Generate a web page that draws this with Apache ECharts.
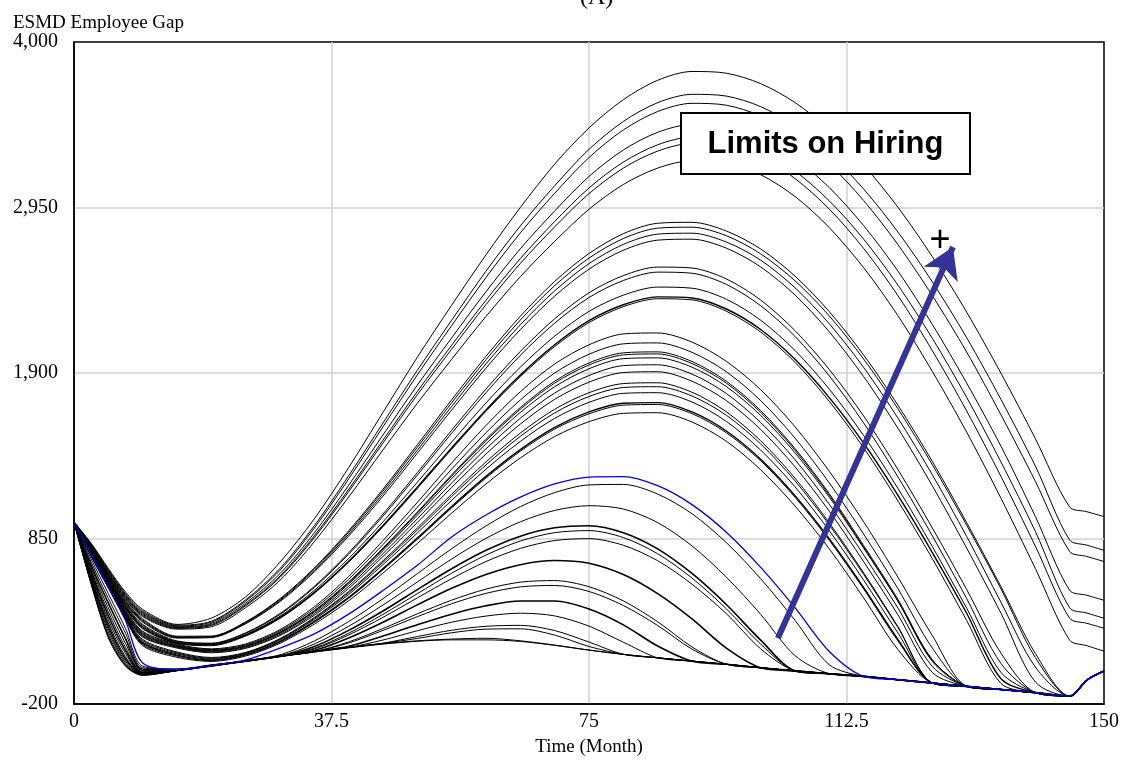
<!DOCTYPE html>
<html><head><meta charset="utf-8">
<script src="https://cdn.jsdelivr.net/npm/echarts@6/dist/echarts.min.js"></script>
<style>html,body{margin:0;padding:0;background:#fff}#c{width:1127px;height:762px}</style>
</head><body><div id="c"></div>
<script>
// Time (Month) sample points shared by all runs
const T = [0, 2.5, 5, 7.5, 10, 15, 20, 25, 30, 35, 40, 45, 50, 55, 60, 65, 70, 75, 80, 85, 90, 95, 100, 105, 110, 115, 120, 125, 130, 135, 140, 145, 147.5, 150];
const xTicks = [0, 37.5, 75, 112.5, 150];
const yTicks = [-200, 850, 1900, 2950, 4000];

// lowest run (common floor)
const runFloor = [955, 560, 220, 40, -18, 12, 42, 72, 102, 130, 156, 180, 198, 207, 207, 197, 172, 142, 115, 93, 72, 52, 30, 10, -8, -25, -46, -67, -88, -108, -128, -150, -48, 9];
// low runs
const runF8 = [955, 562, 228, 44, -17, 12, 42, 72, 102, 133, 159, 183, 201, 212, 217, 201, 174, 142, 115, 93, 72, 52, 30, 10, -8, -25, -46, -67, -88, -108, -128, -150, -48, 9];
const runF7 = [955, 568, 240, 50, -16, 12, 42, 72, 102, 134, 160, 185, 216, 252, 275, 277, 237, 165, 115, 93, 72, 52, 30, 10, -8, -25, -46, -67, -88, -108, -128, -150, -48, 9];
const runF6 = [955, 575, 258, 60, -14, 12, 42, 72, 102, 134, 160, 186, 228, 268, 293, 299, 266, 193, 115, 93, 72, 52, 30, 10, -8, -25, -46, -67, -88, -108, -128, -150, -48, 9];
const runF5 = [955, 585, 275, 70, -12, 13, 42, 72, 102, 133, 159, 206, 265, 319, 358, 376, 359, 294, 192, 93, 72, 52, 30, 10, -8, -25, -46, -67, -88, -108, -128, -150, -48, 9];
const runF4 = [955, 596, 295, 85, -10, 13, 42, 72, 102, 132, 166, 231, 303, 370, 423, 453, 453, 402, 302, 168, 72, 52, 30, 10, -8, -25, -46, -67, -88, -108, -128, -150, -48, 9];
const runF3 = [955, 608, 315, 100, -8, 14, 42, 72, 103, 132, 187, 267, 354, 436, 502, 543, 552, 514, 425, 298, 148, 52, 30, 10, -8, -25, -46, -67, -88, -108, -128, -150, -48, 9];
const runF2 = [955, 620, 335, 120, -5, 14, 42, 72, 103, 132, 194, 279, 372, 459, 529, 573, 583, 544, 454, 322, 162, 52, 30, 10, -8, -25, -46, -67, -88, -108, -128, -150, -48, 9];
const runF1 = [955, 635, 360, 140, 0, 15, 42, 72, 104, 140, 219, 319, 429, 534, 622, 684, 710, 693, 621, 500, 340, 155, 30, 10, -8, -25, -46, -67, -88, -108, -128, -150, -48, 9];
const runE5 = [955, 650, 385, 160, 5, 16, 43, 72, 103, 149, 238, 350, 473, 595, 704, 787, 837, 849, 807, 709, 560, 373, 150, 10, -8, -25, -46, -67, -88, -108, -128, -150, -48, 9];
const runE4 = [955, 665, 410, 185, 12, 17, 44, 73, 103, 154, 249, 369, 500, 630, 745, 834, 887, 900, 856, 753, 599, 404, 180, 10, -8, -25, -46, -67, -88, -108, -128, -150, -48, 9];
const runE3 = [955, 680, 440, 215, 20, 18, 45, 73, 103, 165, 267, 390, 526, 658, 775, 865, 918, 931, 887, 784, 628, 431, 205, 10, -8, -25, -46, -67, -88, -108, -128, -150, -48, 9];
const runE2 = [955, 700, 470, 250, 30, 20, 46, 74, 104, 181, 293, 428, 574, 720, 851, 956, 1028, 1058, 1037, 951, 803, 605, 369, 107, -8, -25, -46, -67, -88, -108, -128, -150, -48, 9];
const runE1 = [955, 720, 500, 280, 40, 22, 48, 75, 112, 200, 323, 468, 627, 785, 930, 1052, 1141, 1190, 1193, 1132, 1007, 824, 595, 331, 49, -25, -46, -67, -88, -108, -128, -150, -48, 9];
// middle runs
const runD13 = [955, 738, 537, 336, 170, 96, 70, 104, 185, 307, 455, 631, 818, 1011, 1196, 1361, 1497, 1591, 1644, 1648, 1589, 1467, 1286, 1056, 784, 473, 145, -67, -88, -108, -128, -150, -48, 9];
const runD12 = [955, 740, 539, 341, 178, 104, 75, 110, 192, 318, 470, 652, 845, 1044, 1234, 1404, 1544, 1641, 1696, 1700, 1642, 1521, 1343, 1112, 838, 530, 200, -67, -88, -108, -128, -150, -48, 9];
const runD11 = [955, 742, 541, 346, 186, 110, 80, 115, 198, 324, 477, 659, 853, 1053, 1244, 1414, 1555, 1653, 1708, 1712, 1653, 1532, 1353, 1122, 848, 539, 209, -67, -88, -108, -128, -150, -48, 9];
const runD10 = [955, 744, 543, 351, 194, 118, 85, 121, 206, 337, 495, 684, 885, 1092, 1290, 1466, 1612, 1714, 1771, 1775, 1716, 1593, 1411, 1178, 899, 586, 250, -67, -88, -108, -128, -150, -48, 9];
const runD9 = [955, 746, 545, 356, 202, 124, 90, 124, 212, 344, 506, 699, 904, 1116, 1317, 1498, 1647, 1751, 1808, 1813, 1754, 1632, 1450, 1216, 936, 622, 285, -67, -88, -108, -128, -150, -48, 9];
const runD8 = [955, 748, 547, 361, 210, 130, 95, 127, 215, 349, 514, 709, 917, 1131, 1336, 1519, 1670, 1775, 1833, 1838, 1778, 1654, 1470, 1233, 949, 632, 290, -67, -88, -108, -128, -150, -48, 9];
const runD7 = [955, 750, 549, 366, 224, 155, 125, 153, 234, 363, 533, 736, 952, 1174, 1386, 1576, 1733, 1842, 1903, 1908, 1848, 1725, 1542, 1305, 1023, 703, 365, 0, -88, -108, -128, -150, -48, 9];
const runD6 = [955, 752, 552, 371, 230, 160, 130, 158, 241, 373, 547, 754, 975, 1202, 1419, 1613, 1773, 1884, 1947, 1952, 1893, 1770, 1586, 1350, 1067, 746, 408, 38, -88, -108, -128, -150, -48, 9];
const runD5 = [955, 754, 555, 376, 236, 164, 135, 164, 249, 383, 561, 773, 998, 1230, 1451, 1650, 1813, 1927, 1991, 1996, 1937, 1814, 1631, 1394, 1112, 789, 453, 78, -88, -108, -128, -150, -48, 9];
const runD4 = [955, 756, 558, 381, 242, 167, 138, 167, 253, 389, 569, 783, 1011, 1246, 1470, 1670, 1836, 1951, 2015, 2021, 1960, 1836, 1650, 1410, 1124, 795, 452, 70, -88, -108, -128, -150, -48, 9];
const runD3 = [955, 758, 561, 386, 248, 170, 140, 169, 256, 393, 574, 789, 1018, 1254, 1480, 1681, 1848, 1964, 2028, 2034, 1973, 1848, 1662, 1421, 1134, 805, 463, 81, -88, -108, -128, -150, -48, 9];
const runD2 = [955, 760, 565, 392, 255, 175, 145, 175, 264, 405, 591, 812, 1048, 1290, 1521, 1729, 1900, 2019, 2085, 2091, 2031, 1908, 1725, 1487, 1202, 878, 531, 155, -88, -108, -128, -150, -48, 9];
const runD1 = [955, 763, 569, 398, 262, 180, 150, 181, 272, 417, 609, 837, 1079, 1329, 1567, 1781, 1957, 2079, 2148, 2154, 2096, 1974, 1794, 1559, 1276, 956, 604, 234, -88, -108, -128, -150, -48, 9];
const runC5 = [955, 766, 574, 406, 277, 184, 170, 231, 343, 502, 700, 925, 1168, 1416, 1657, 1877, 2068, 2220, 2321, 2371, 2364, 2292, 2160, 1968, 1720, 1425, 1088, 722, 330, -70, -128, -150, -48, 9];
const runC4 = [955, 769, 579, 412, 284, 188, 175, 236, 349, 508, 706, 933, 1176, 1425, 1666, 1887, 2079, 2232, 2333, 2383, 2376, 2306, 2176, 1987, 1744, 1455, 1123, 761, 376, -40, -128, -150, -48, 9];
const runC3 = [955, 772, 584, 418, 291, 192, 178, 241, 357, 521, 724, 956, 1207, 1462, 1710, 1937, 2134, 2291, 2394, 2445, 2438, 2368, 2235, 2043, 1797, 1503, 1167, 799, 408, 0, -128, -150, -48, 9];
const runC2 = [955, 775, 589, 424, 298, 196, 183, 248, 368, 539, 750, 992, 1252, 1518, 1775, 2012, 2216, 2379, 2487, 2540, 2533, 2462, 2327, 2132, 1881, 1583, 1240, 867, 469, 57, -128, -150, -48, 9];
const runC1 = [955, 778, 594, 430, 305, 200, 186, 252, 374, 546, 760, 1005, 1268, 1537, 1798, 2037, 2244, 2409, 2518, 2572, 2566, 2497, 2363, 2169, 1922, 1627, 1287, 917, 527, 122, -128, -150, -48, 9];
const runB4 = [955, 781, 599, 437, 319, 218, 221, 309, 450, 638, 865, 1119, 1391, 1665, 1931, 2175, 2388, 2559, 2679, 2743, 2749, 2692, 2573, 2395, 2161, 1877, 1549, 1184, 789, 376, -60, -150, -48, 9];
const runB3 = [955, 784, 604, 443, 326, 222, 225, 313, 456, 647, 877, 1135, 1410, 1688, 1958, 2206, 2421, 2594, 2716, 2781, 2787, 2731, 2616, 2441, 2212, 1935, 1613, 1254, 863, 445, 35, -150, -48, 9];
const runB2 = [955, 787, 609, 449, 333, 226, 228, 318, 463, 656, 889, 1151, 1429, 1711, 1984, 2236, 2454, 2629, 2753, 2819, 2825, 2771, 2656, 2485, 2262, 1988, 1672, 1318, 934, 530, 95, -150, -48, 9];
const runB1 = [955, 790, 614, 455, 340, 230, 231, 321, 468, 663, 899, 1163, 1445, 1730, 2006, 2260, 2481, 2658, 2784, 2850, 2856, 2801, 2687, 2515, 2289, 2014, 1695, 1339, 951, 544, 121, -150, -48, 9];
// high runs
const runA7 = [955, 794, 620, 464, 354, 275, 290, 411, 585, 830, 1113, 1412, 1708, 1987, 2259, 2511, 2735, 2939, 3096, 3200, 3247, 3235, 3158, 3020, 2822, 2568, 2263, 1910, 1525, 1105, 660, 205, 170, 135];
const runA6 = [955, 798, 626, 471, 361, 280, 298, 423, 603, 855, 1147, 1456, 1762, 2051, 2334, 2595, 2827, 3038, 3200, 3308, 3357, 3344, 3269, 3134, 2940, 2690, 2390, 2042, 1659, 1243, 802, 344, 312, 281];
const runA5 = [955, 802, 632, 478, 368, 285, 304, 430, 612, 867, 1162, 1474, 1783, 2076, 2362, 2626, 2861, 3074, 3238, 3348, 3397, 3385, 3312, 3181, 2992, 2749, 2457, 2120, 1745, 1335, 895, 410, 377, 344];
const runA4 = [955, 806, 638, 485, 375, 290, 311, 440, 627, 886, 1188, 1507, 1823, 2123, 2416, 2688, 2928, 3147, 3315, 3427, 3477, 3465, 3393, 3263, 3076, 2835, 2546, 2208, 1836, 1435, 990, 521, 490, 458];
const runA3 = [955, 810, 645, 492, 382, 295, 319, 453, 648, 916, 1228, 1559, 1888, 2201, 2506, 2789, 3040, 3267, 3442, 3559, 3611, 3599, 3531, 3406, 3226, 2994, 2714, 2391, 2033, 1634, 1213, 768, 736, 704];
const runA2 = [955, 815, 652, 500, 390, 300, 325, 461, 660, 931, 1248, 1583, 1917, 2235, 2546, 2833, 3088, 3319, 3496, 3615, 3668, 3657, 3590, 3468, 3293, 3067, 2794, 2478, 2124, 1732, 1310, 840, 808, 775];
const runA1 = [955, 820, 660, 510, 400, 305, 345, 480, 700, 975, 1300, 1650, 2000, 2330, 2650, 2950, 3225, 3455, 3634, 3757, 3813, 3802, 3736, 3616, 3443, 3220, 2951, 2638, 2286, 1898, 1484, 1050, 1020, 989];
// highlighted run (blue)
const runBlue = [955, 750, 545, 330, 60, 18, 43, 80, 155, 245, 370, 520, 680, 860, 999, 1112, 1196, 1240, 1243, 1185, 1065, 890, 667, 411, 133, -25, -46, -67, -88, -108, -128, -150, -48, 9];

const blackRuns = {runFloor, runF8, runF7, runF6, runF5, runF4, runF3, runF2, runF1, runE5, runE4, runE3, runE2, runE1,
  runD13, runD12, runD11, runD10, runD9, runD8, runD7, runD6, runD5, runD4, runD3, runD2, runD1,
  runC5, runC4, runC3, runC2, runC1, runB4, runB3, runB2, runB1, runA7, runA6, runA5, runA4, runA3, runA2, runA1};
const thick = {runF4: 1.6, runF1: 1.6, runE3: 1.6, runD11: 1.4, runC4: 1.4};

for (const [k, arr] of Object.entries(Object.assign({}, blackRuns, {runBlue}))) {
  if (arr.length !== T.length) throw new Error('length mismatch ' + k + ' ' + arr.length);
}

const SERIF = '"Liberation Serif", "DejaVu Serif", serif';
const SANS = '"Liberation Sans", Arial, sans-serif';

function mk(name, arr, color, width) {
  return {
    name, type: 'line', data: T.map((t, i) => [t, arr[i]]), showSymbol: false, symbol: 'none',
    smooth: 0.3, lineStyle: { color, width }, itemStyle: { color }, silent: true, z: 2
  };
}
const series = [];
for (const [k, arr] of Object.entries(blackRuns)) series.push(mk(k, arr, '#000', thick[k] || 1));
const blueS = mk('runBlue', runBlue, '#0000ee', 1.3);
blueS.z = 3;
blueS.markLine = {
  silent: true, symbol: ['none', 'arrow'], symbolSize: [28, 30], label: { show: false },
  lineStyle: { color: '#333399', width: 6, type: 'solid' },
  data: [[{ coord: [102.5, 217] }, { coord: [128.0, 2700] }]]
};
series.push(blueS);

const chart = echarts.init(document.getElementById('c'), null, { renderer: 'canvas' });
chart.setOption({
  animation: false,
  backgroundColor: '#fff',
  title: [
    { text: '(A)', left: 575, top: -19, textStyle: { fontFamily: SERIF, fontSize: 24, fontWeight: 'normal', color: '#000' } },
    { text: 'ESMD Employee Gap', left: 8, top: 9, textStyle: { fontFamily: SERIF, fontSize: 19, fontWeight: 'normal', color: '#000' } }
  ],
  grid: { left: 74, right: 23, top: 42, bottom: 56, show: true, borderColor: '#000', borderWidth: 1.5, backgroundColor: '#fff' },
  xAxis: {
    type: 'value', min: xTicks[0], max: xTicks[xTicks.length - 1], interval: xTicks[1] - xTicks[0],
    name: 'Time (Month)', nameLocation: 'middle', nameGap: 34,
    nameTextStyle: { fontFamily: SERIF, fontSize: 19, color: '#000' },
    axisLine: { show: true, onZero: false, lineStyle: { color: '#000', width: 1.5 } }, axisTick: { show: false },
    axisLabel: { fontFamily: SERIF, fontSize: 20, color: '#000', margin: 8, formatter: v => String(v) },
    splitLine: { show: true, showMinLine: false, showMaxLine: false, lineStyle: { color: '#d0d0d0', width: 1.5 } }
  },
  yAxis: {
    type: 'value', min: yTicks[0], max: yTicks[yTicks.length - 1], interval: yTicks[1] - yTicks[0],
    axisLine: { show: true, onZero: false, lineStyle: { color: '#000', width: 1.5 } }, axisTick: { show: false },
    axisLabel: { fontFamily: SERIF, fontSize: 20, color: '#000', margin: 16, formatter: v => v.toLocaleString('en-US') },
    splitLine: { show: true, showMinLine: false, showMaxLine: false, lineStyle: { color: '#d0d0d0', width: 1.5 } }
  },
  series,
  graphic: [
    { type: 'rect', shape: { x: 681, y: 113, width: 289, height: 61 }, style: { fill: '#fff', stroke: '#000', lineWidth: 2 }, z: 100 },
    { type: 'text', x: 825.5, y: 144, style: { text: 'Limits on Hiring', font: 'bold 31px ' + SANS, fill: '#000', textAlign: 'center', textVerticalAlign: 'middle' }, z: 101 },
    { type: 'text', x: 940, y: 241, style: { text: '+', font: '36px ' + SANS, fill: '#000', textAlign: 'center', textVerticalAlign: 'middle' }, z: 101 }
  ]
});
</script></body></html>
